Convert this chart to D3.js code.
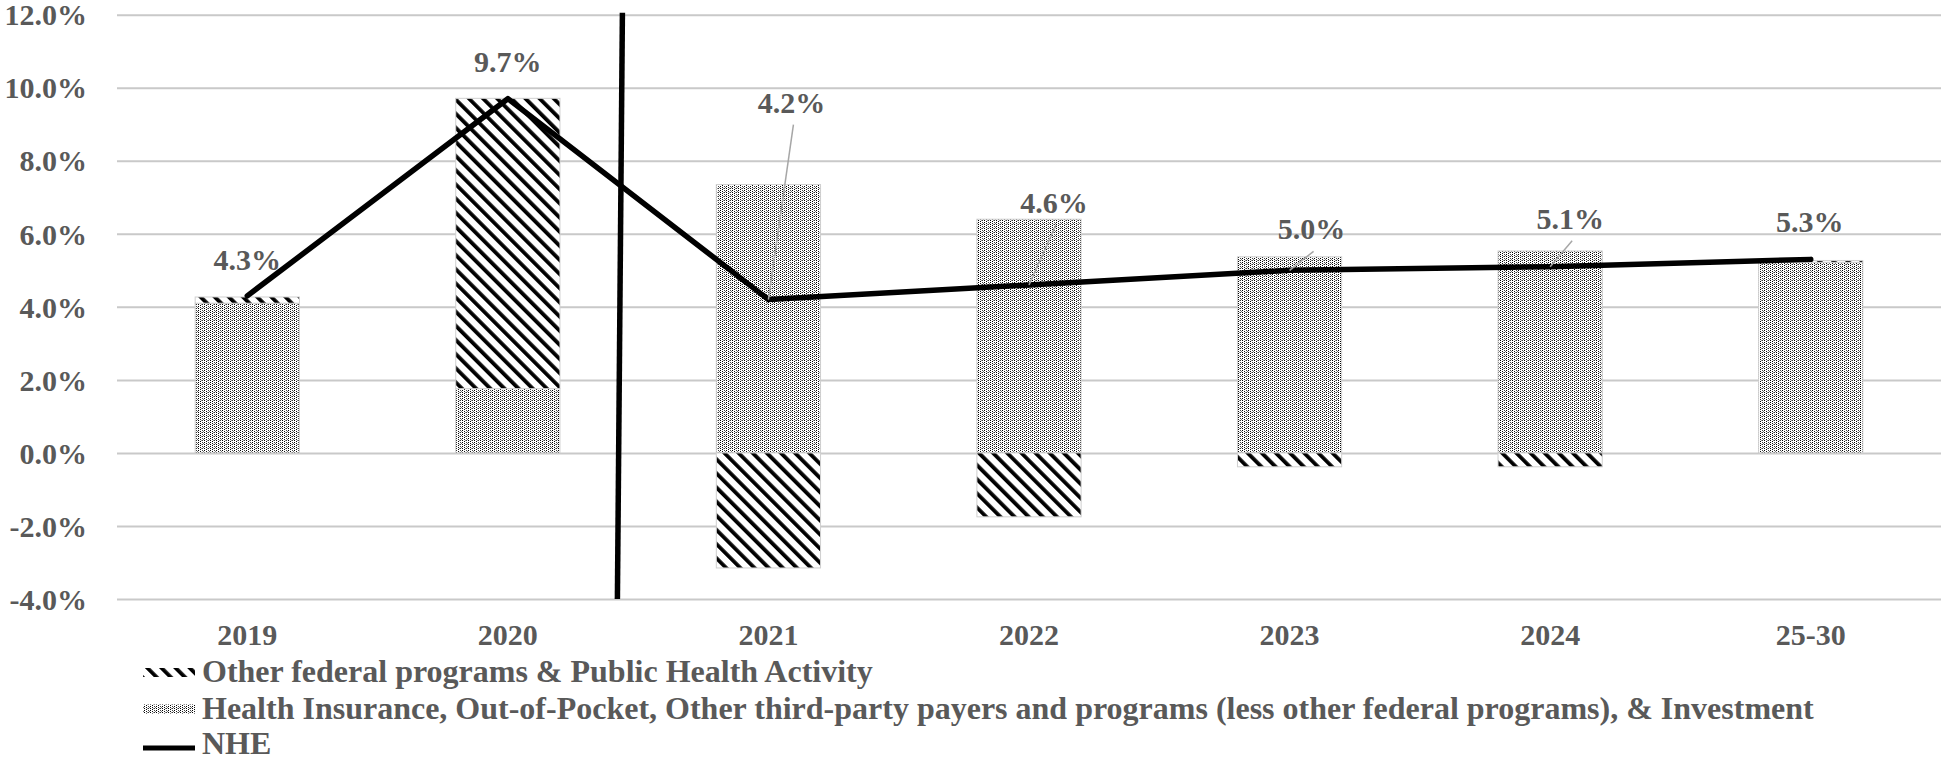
<!DOCTYPE html>
<html>
<head>
<meta charset="utf-8">
<script src="https://cdn.jsdelivr.net/npm/d3@7"></script>
<style>
  html, body { margin: 0; padding: 0; background: #ffffff; }
  svg { display: block; }
  text { font-family: "Liberation Serif", "Times New Roman", serif; font-weight: bold; fill: #595959; }
</style>
</head>
<body>
<svg id="chart" width="1941" height="759"></svg>
<script>
// Year categories (2025-2030 shown as an average)
const categories = ["2019", "2020", "2021", "2022", "2023", "2024", "25-30"];

// Contribution to growth, percentage points
const healthInsurance = [4.1, 1.76, 7.35, 6.4, 5.37, 5.53, 5.22];
const otherFederal    = [0.17, 7.95, -3.15, -1.75, -0.38, -0.38, 0.05];

// National health expenditure growth, percent
const nheGrowth = [4.3, 9.7, 4.2, 4.6, 5.0, 5.1, 5.3];

// Axis ticks
const yTicks = [-4, -2, 0, 2, 4, 6, 8, 10, 12];

// Legend entries
const legendLabels = [
  "Other federal programs & Public Health Activity",
  "Health Insurance, Out-of-Pocket, Other third-party payers and programs (less other federal programs), & Investment",
  "NHE"
];

// Label placement (pixel offsets of each NHE label from its point)
const labelOffsets = [[0, -26], [0, -27], [23, -187], [25, -72], [22, -31], [20, -38], [-1, -27]];

const W = 1941, H = 759;
const plot = { left: 117, right: 1941, top: 14.7, bottom: 599 };
const FONT = 30;
const LEGEND_FONT = 32;

const svg = d3.select("#chart");
const defs = svg.append("defs");

// Diagonal hatch: black stripes running down to the right
const hatch = defs.append("pattern")
  .attr("id", "hatch")
  .attr("patternUnits", "userSpaceOnUse")
  .attr("width", 10).attr("height", 10)
  .attr("patternTransform", "rotate(-45)");
hatch.append("rect").attr("width", 10).attr("height", 10).attr("fill", "#fff");
hatch.append("rect").attr("x", 0).attr("width", 3.8).attr("height", 10).attr("fill", "#000");

// Fine stipple: dots in vertical columns
const stip = defs.append("pattern")
  .attr("id", "stipple")
  .attr("patternUnits", "userSpaceOnUse")
  .attr("width", 6).attr("height", 4);
stip.append("rect").attr("width", 6).attr("height", 4).attr("fill", "#fff");
[[0, 0, "#000"], [0, 2, "#000"], [2, 1, "#000"], [2, 3, "#111"], [4, 0, "#333"], [4, 2, "#444"], [5, 3, "#777"], [3, 0, "#999"]]
  .forEach(([px, py, c]) => stip.append("rect").attr("x", px).attr("y", py).attr("width", 1).attr("height", 1).attr("fill", c));

const x = d3.scaleBand()
  .domain(categories)
  .range([plot.left, plot.right])
  .paddingInner(0.6)
  .paddingOuter(0.3);

const y = d3.scaleLinear()
  .domain([-4, 12])
  .range([plot.bottom, plot.top]);

// Horizontal gridlines
const grid = svg.append("g")
  .attr("transform", `translate(${plot.left},0)`)
  .call(d3.axisLeft(y).tickValues(yTicks).tickSize(-(plot.right - plot.left)).tickFormat(""));
grid.select(".domain").remove();
grid.selectAll("line").attr("stroke", "#c9c9c9").attr("stroke-width", 2);

// Y axis labels
const yAxis = svg.append("g")
  .attr("transform", `translate(${plot.left},0)`)
  .call(d3.axisLeft(y).tickValues(yTicks).tickSize(0).tickPadding(30).tickFormat(d => d.toFixed(1) + "%"));
yAxis.select(".domain").remove();
yAxis.selectAll("text")
  .attr("font-family", null).attr("fill", null)
  .style("font-size", FONT + "px")
  .attr("dy", "0.34em");

// X axis labels
const xAxis = svg.append("g")
  .attr("transform", `translate(0,${plot.bottom})`)
  .call(d3.axisBottom(x).tickSize(0));
xAxis.select(".domain").remove();
xAxis.selectAll("text")
  .attr("font-family", null).attr("fill", null)
  .style("font-size", FONT + "px")
  .attr("y", 46).attr("dy", null);

// Stacked contributions (positive stack up, negative stack down)
const rows = categories.map((c, i) => ({ cat: c, health: healthInsurance[i], other: otherFederal[i] }));
const stack = d3.stack().keys(["health", "other"]).offset(d3.stackOffsetDiverging);
const series = stack(rows);
const fills = { health: "url(#stipple)", other: "url(#hatch)" };

svg.append("g").selectAll("g")
  .data(series)
  .join("g")
  .attr("fill", s => fills[s.key])
  .selectAll("rect")
  .data(s => s)
  .join("rect")
  .attr("x", d => x(d.data.cat))
  .attr("width", x.bandwidth())
  .attr("y", d => y(Math.max(d[0], d[1])))
  .attr("height", d => Math.abs(y(d[0]) - y(d[1])))
  .attr("stroke", "#d0d0d0")
  .attr("stroke-width", 1);

// NHE growth line
const cx = i => x(categories[i]) + x.bandwidth() / 2;
const line = d3.line().x((d, i) => cx(i)).y(d => y(d));
svg.append("path")
  .datum(nheGrowth)
  .attr("d", line)
  .attr("fill", "none")
  .attr("stroke", "#000")
  .attr("stroke-width", 5.5)
  .attr("stroke-linejoin", "round")
  .attr("stroke-linecap", "round");

// Divider between actual and projected years
const divX = cx(1) + 0.43 * x.step();
svg.append("line")
  .attr("x1", divX + 2.5).attr("y1", y(12) - 2)
  .attr("x2", divX - 2.5).attr("y2", y(-4))
  .attr("stroke", "#000").attr("stroke-width", 5.5);

// NHE value labels with leader lines where displaced
nheGrowth.forEach((v, i) => {
  const px = cx(i), py = y(v);
  const [dx, dy] = labelOffsets[i];
  const lx = px + dx, ly = py + dy;
  if (Math.abs(dx) > 5) {
    svg.append("line")
      .attr("x1", lx + 2).attr("y1", ly + 12)
      .attr("x2", px).attr("y2", py)
      .attr("stroke", "#a6a6a6").attr("stroke-width", 1.5);
  }
  svg.append("text")
    .attr("x", lx).attr("y", ly)
    .attr("text-anchor", "middle")
    .style("font-size", FONT + "px")
    .text(v.toFixed(1) + "%");
});

// Legend
const legend = svg.append("g");
const legendRows = [682, 718.5, 754];
const swatchX = 143, swatchW = 52;
legendLabels.forEach((label, i) => {
  const by = legendRows[i];
  if (i < 2) {
    legend.append("rect")
      .attr("x", swatchX).attr("y", by - 14)
      .attr("width", swatchW).attr("height", 9)
      .attr("fill", i === 0 ? "url(#hatch)" : "url(#stipple)");
  } else {
    legend.append("line")
      .attr("x1", swatchX).attr("x2", swatchX + swatchW)
      .attr("y1", by - 6).attr("y2", by - 6)
      .attr("stroke", "#000").attr("stroke-width", 5);
  }
  legend.append("text")
    .attr("x", 202).attr("y", by)
    .style("font-size", LEGEND_FONT + "px")
    .text(label);
});
</script>
</body>
</html>
